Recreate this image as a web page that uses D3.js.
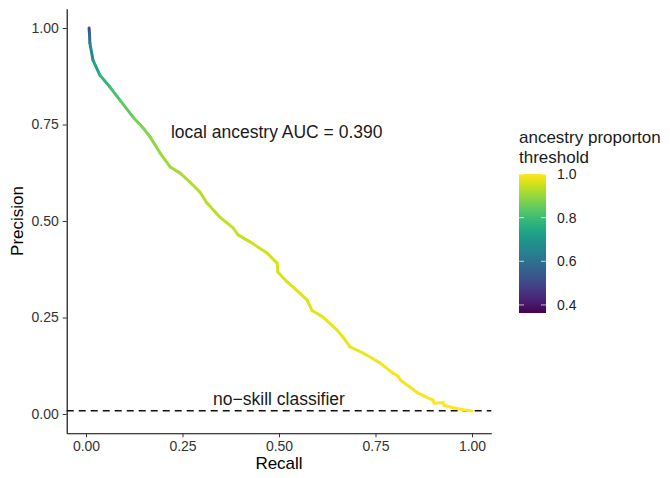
<!DOCTYPE html>
<html>
<head>
<meta charset="utf-8">
<script src="https://cdn.jsdelivr.net/npm/d3@7"></script>
<style>
body { margin: 0; background: #fff; }
svg text { font-family: "Liberation Sans", Arial, Helvetica, sans-serif; }
.tick text { fill: #333; font-size: 14px; }
.tick line { stroke: #333; }
</style>
</head>
<body>
<script>
// precision-recall curve
var recall = [0.008, 0.009, 0.010, 0.018, 0.036, 0.062, 0.088, 0.122, 0.148, 0.166,
              0.192, 0.218, 0.244, 0.269, 0.295, 0.313, 0.347, 0.381, 0.394, 0.425,
              0.469, 0.495, 0.497, 0.521, 0.554, 0.573, 0.585, 0.614, 0.650, 0.666,
              0.684, 0.718, 0.762, 0.795, 0.808, 0.815, 0.821, 0.839, 0.860, 0.899,
              0.902, 0.925, 0.928, 0.951, 0.977, 1.000];
var precision = [1.000, 0.985, 0.961, 0.917, 0.878, 0.847, 0.813, 0.769, 0.741, 0.718,
                 0.676, 0.640, 0.624, 0.601, 0.575, 0.547, 0.510, 0.482, 0.464, 0.446,
                 0.417, 0.391, 0.368, 0.342, 0.313, 0.295, 0.269, 0.251, 0.218, 0.199,
                 0.174, 0.158, 0.132, 0.106, 0.098, 0.088, 0.083, 0.070, 0.054, 0.036,
                 0.028, 0.030, 0.022, 0.016, 0.011, 0.008];
var threshold = [0.50, 0.54, 0.62, 0.70, 0.76, 0.80, 0.83, 0.86, 0.88, 0.89,
                 0.90, 0.91, 0.92, 0.92, 0.93, 0.93, 0.94, 0.95, 0.95, 0.95,
                 0.96, 0.96, 0.96, 0.97, 0.97, 0.97, 0.97, 0.98, 0.98, 0.98,
                 0.98, 0.98, 0.99, 0.99, 0.99, 0.99, 0.99, 0.99, 0.99, 1.00,
                 1.00, 1.00, 1.00, 1.00, 1.00, 1.00];
var noSkill = 0.0085;
var axisTicks = [0, 0.25, 0.5, 0.75, 1];
var legendTicks = [0.4, 0.6, 0.8, 1.0];
var thresholdRange = [0.363, 1.0];

var width = 670, height = 478;

var svg = d3.select("body").append("svg")
    .attr("width", width)
    .attr("height", height);

var x = d3.scaleLinear().domain([-0.05, 1.05]).range([66.7, 491.3]);
var y = d3.scaleLinear().domain([-0.05, 1.05]).range([433.3, 8.7]);
var colour = d3.scaleSequential(d3.interpolateViridis).domain(thresholdRange);

// dashed no-skill line
svg.append("line")
    .attr("x1", x(-0.05)).attr("x2", x(1.05))
    .attr("y1", y(noSkill)).attr("y2", y(noSkill))
    .attr("stroke", "#111")
    .attr("stroke-width", 1.5)
    .attr("stroke-dasharray", "7,5");

// curve as coloured segments
var pts = recall.map(function(r, i) { return [r, precision[i], threshold[i]]; });
svg.append("g").selectAll("line")
    .data(pts.slice(0, -1))
    .enter().append("line")
    .attr("x1", function(d) { return x(d[0]); })
    .attr("y1", function(d) { return y(d[1]); })
    .attr("x2", function(d, i) { return x(pts[i + 1][0]); })
    .attr("y2", function(d, i) { return y(pts[i + 1][1]); })
    .attr("stroke", function(d, i) { return colour((d[2] + pts[i + 1][2]) / 2); })
    .attr("stroke-width", 3)
    .attr("stroke-linecap", "round");

// axes
var xAxis = d3.axisBottom(x).tickValues(axisTicks).tickFormat(d3.format(".2f"))
    .tickSize(4).tickSizeOuter(0).tickPadding(4);
var yAxis = d3.axisLeft(y).tickValues(axisTicks).tickFormat(d3.format(".2f"))
    .tickSize(4).tickSizeOuter(0).tickPadding(4);

var gx = svg.append("g").attr("transform", "translate(0," + y(-0.05) + ")").call(xAxis);
var gy = svg.append("g").attr("transform", "translate(" + x(-0.05) + ",0)").call(yAxis);
[gx, gy].forEach(function(g) {
    g.select(".domain").attr("stroke", "#000").attr("stroke-width", 1.1);
    g.selectAll(".tick text").style("font-size", "14px");
});

svg.append("text")
    .attr("x", x(0.5)).attr("y", 469)
    .attr("text-anchor", "middle")
    .style("font-size", "17px")
    .text("Recall");

svg.append("text")
    .attr("transform", "translate(23," + y(0.5) + ") rotate(-90)")
    .attr("text-anchor", "middle")
    .style("font-size", "17px")
    .text("Precision");

// annotations
svg.append("text")
    .attr("x", x(0.494)).attr("y", 138)
    .attr("text-anchor", "middle")
    .style("font-size", "17.5px")
    .attr("fill", "#1a1a1a")
    .text("local ancestry AUC = 0.390");

svg.append("text")
    .attr("x", x(0.5)).attr("y", 405)
    .attr("text-anchor", "middle")
    .style("font-size", "17.5px")
    .attr("fill", "#1a1a1a")
    .text("no\u2212skill classifier");

// colour bar legend
var ly = d3.scaleLinear().domain(thresholdRange).range([313, 174]);
var barX = 519, barW = 27;

var grad = svg.append("defs").append("linearGradient")
    .attr("id", "vir")
    .attr("x1", 0).attr("x2", 0).attr("y1", 1).attr("y2", 0);
grad.selectAll("stop")
    .data(d3.range(0, 1.0001, 0.05))
    .enter().append("stop")
    .attr("offset", function(d) { return d; })
    .attr("stop-color", function(d) { return colour(thresholdRange[0] + d * (thresholdRange[1] - thresholdRange[0])); });

svg.append("rect")
    .attr("x", barX).attr("y", ly(thresholdRange[1]))
    .attr("width", barW).attr("height", ly(thresholdRange[0]) - ly(thresholdRange[1]))
    .attr("fill", "url(#vir)");

var lt = svg.append("g").selectAll("g").data(legendTicks).enter().append("g");
lt.append("line")
    .attr("x1", barX).attr("x2", barX + 5)
    .attr("y1", function(d) { return ly(d); }).attr("y2", function(d) { return ly(d); })
    .attr("stroke", "#fff").attr("stroke-opacity", 0.7);
lt.append("line")
    .attr("x1", barX + barW - 5).attr("x2", barX + barW)
    .attr("y1", function(d) { return ly(d); }).attr("y2", function(d) { return ly(d); })
    .attr("stroke", "#fff").attr("stroke-opacity", 0.7);
lt.append("text")
    .attr("x", barX + barW + 11)
    .attr("y", function(d) { return ly(d); })
    .attr("dy", "0.36em")
    .style("font-size", "14px")
    .attr("fill", "#222")
    .text(function(d) { return d3.format(".1f")(d); });

var title = svg.append("text")
    .attr("x", barX).attr("y", 143)
    .style("font-size", "17px")
    .attr("fill", "#1a1a1a");
title.append("tspan").attr("x", barX).text("ancestry proporton");
title.append("tspan").attr("x", barX).attr("dy", 19.5).text("threshold");
</script>
</body>
</html>
